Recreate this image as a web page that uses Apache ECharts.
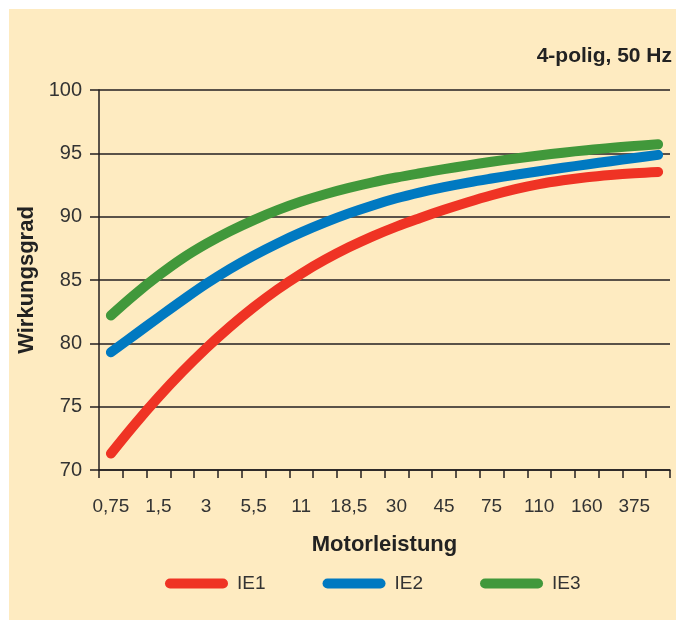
<!DOCTYPE html>
<html>
<head>
<meta charset="utf-8">
<script src="https://cdn.jsdelivr.net/npm/echarts@6/dist/echarts.min.js"></script>
<style>
html,body{margin:0;padding:0;background:#ffffff;}
#chart{width:676px;height:620px;}
</style>
</head>
<body>
<div id="chart"></div>
<script>
// X categories (labels on every other position; unnamed positions are intermediate ticks)
var categories = ['0,75','', '1,5','', '3','', '5,5','', '11','', '18,5','', '30','', '45','', '75','', '110','', '160','', '375',''];
var yTicks = [70, 75, 80, 85, 90, 95, 100];
var seriesNames = ['IE1', 'IE2', 'IE3'];
var ie1 = [71.3, 73.6, 75.75, 77.75, 79.6, 81.3, 82.85, 84.25, 85.5, 86.6, 87.58, 88.45, 89.22, 89.9, 90.54, 91.14, 91.69, 92.17, 92.57, 92.87, 93.11, 93.29, 93.43, 93.53];
var ie2 = [79.3, 80.67, 82.04, 83.39, 84.69, 85.87, 86.93, 87.89, 88.76, 89.55, 90.26, 90.89, 91.45, 91.92, 92.33, 92.69, 93.01, 93.31, 93.59, 93.86, 94.12, 94.38, 94.63, 94.88];
var ie3 = [82.2, 83.85, 85.35, 86.7, 87.85, 88.85, 89.73, 90.51, 91.19, 91.77, 92.27, 92.71, 93.09, 93.43, 93.75, 94.05, 94.33, 94.59, 94.83, 95.05, 95.25, 95.43, 95.58, 95.71];
var colors = ['#ef3324', '#0079c1', '#41983b'];

var labelFont = "'Liberation Sans', Arial, sans-serif";
var boldFont = "'Liberation Sans', Arial, sans-serif";
var dark = '#231f20';
var legendIcon = 'path://M5,0 H58 A5,5 0 0 1 58,10 H5 A5,5 0 0 1 5,0 Z';

var chart = echarts.init(document.getElementById('chart'), null, {renderer: 'canvas'});
var dataSets = [ie1, ie2, ie3];
var option = {
  animation: false,
  backgroundColor: '#ffffff',
  graphic: [{
    type: 'rect', left: 9, top: 9, z: -10,
    shape: {width: 667, height: 611},
    style: {fill: '#feebc1'}
  }],
  title: {
    text: '4-polig, 50 Hz', right: 4, top: 46, padding: 0,
    textStyle: {fontFamily: boldFont, fontWeight: 'bold', fontSize: 21, color: '#222'}
  },
  legend: {
    data: seriesNames.map(function (n) { return {name: n, icon: legendIcon}; }),
    left: 160, top: 569,
    itemWidth: 63, itemHeight: 10, itemGap: 57,
    textStyle: {fontFamily: labelFont, fontSize: 19, color: '#333', padding: [0, 0, 0, 4]}
  },
  grid: {left: 99, right: 6, top: 90, bottom: 150},
  xAxis: {
    type: 'category',
    data: categories,
    boundaryGap: true,
    name: 'Motorleistung',
    nameLocation: 'middle',
    nameGap: 64,
    nameTextStyle: {fontFamily: boldFont, fontWeight: 'bold', fontSize: 22, color: '#222'},
    axisLine: {show: true, lineStyle: {color: dark, width: 1.5}},
    axisTick: {show: true, length: 8, interval: 0, lineStyle: {color: dark, width: 1.5}},
    axisLabel: {interval: 0, margin: 27, fontFamily: labelFont, fontSize: 19, color: '#333'},
    splitLine: {show: false}
  },
  yAxis: {
    type: 'value',
    min: yTicks[0], max: yTicks[yTicks.length - 1], interval: 5,
    name: 'Wirkungsgrad',
    nameLocation: 'middle',
    nameGap: 60,
    nameRotate: 90,
    nameTextStyle: {fontFamily: boldFont, fontWeight: 'bold', fontSize: 22, color: '#222'},
    axisLine: {show: true, lineStyle: {color: dark, width: 1.5}},
    axisTick: {show: true, length: 9, lineStyle: {color: dark, width: 1.5}},
    axisLabel: {margin: 17, fontFamily: labelFont, fontSize: 20, color: '#333'},
    splitLine: {show: true, lineStyle: {color: dark, width: 1.5}}
  },
  series: seriesNames.map(function (n, i) {
    return {
      name: n, type: 'line', data: dataSets[i], smooth: 0.4,
      symbol: 'none', color: colors[i],
      lineStyle: {width: 10, color: colors[i], cap: 'round', join: 'round'}
    };
  })
};
chart.setOption(option);
</script>
</body>
</html>
